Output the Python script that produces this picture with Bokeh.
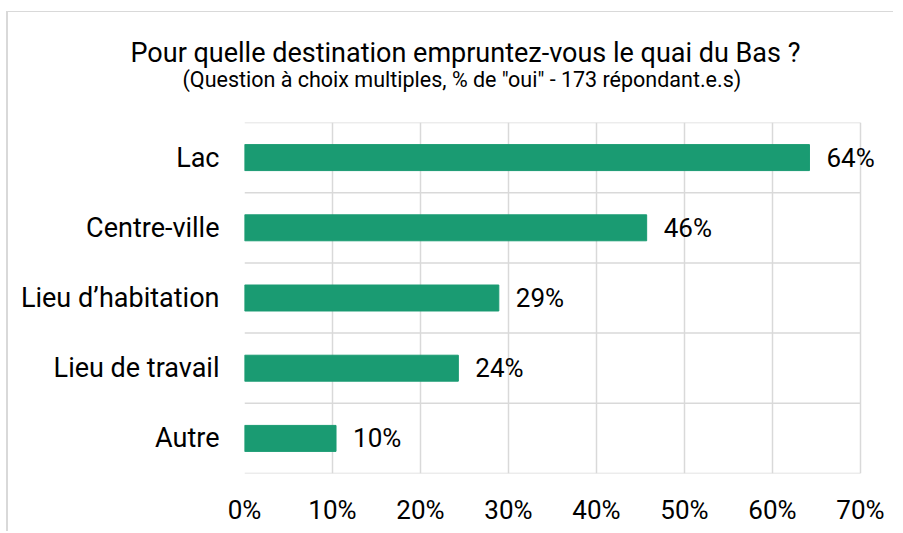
from bokeh.plotting import figure
from bokeh.models import ColumnDataSource, FixedTicker, LabelSet, Title, Range1d, PrintfTickFormatter
from bokeh.core.properties import value
from bokeh.embed import file_html
from bokeh.resources import INLINE

title_text = "Pour quelle destination empruntez-vous le quai du Bas ?"
subtitle_text = '(Question à choix multiples, % de "oui" - 173 répondant.e.s)'
categories = ["Lac", "Centre-ville", "Lieu d\u2019habitation", "Lieu de travail", "Autre"]
values = [64.2, 45.7, 28.9, 24.3, 10.4]
x_ticks = [0, 10, 20, 30, 40, 50, 60, 70]

FONT = "Roboto"
GRID = "#d9d9d9"
BAR = "#1a9b72"

W, H = 887, 520
BL, BR, BT, BB = 236, 0, 110, 59
frame_w = W - BL - BR
axis_px = frame_w - 35          # pixels used by the 0..70 axis span
x_end = x_ticks[-1] * frame_w / axis_px

n = len(categories)
ypos = [n - i - 0.5 for i in range(n)]
labels = [f"{round(v)}%" for v in values]
src = ColumnDataSource(dict(cat=categories, val=values, y=ypos, lab=labels))

p = figure(width=W, height=H, x_range=Range1d(0, x_end), y_range=Range1d(0, n),
           output_backend="svg", toolbar_location=None,
           min_border_left=BL, min_border_right=BR, min_border_top=BT, min_border_bottom=BB)
p.styles = {"margin-left": "6px", "margin-top": "11px",
            "border-left": "2px solid #d9d9d9", "border-top": "1px solid #d9d9d9"}
p.outline_line_color = None

# horizontal category boundary lines, spanning the 0..70 axis
bounds_y = list(range(n + 1))
p.segment(x0=[x_ticks[0]] * len(bounds_y), x1=[x_ticks[-1]] * len(bounds_y),
          y0=bounds_y, y1=bounds_y, line_color=GRID, line_width=1.5)

p.hbar(y="y", right="val", left=0, height=0.37, source=src, color=BAR, line_color=BAR)

p.add_layout(LabelSet(x="val", y="y", text="lab", source=src, x_offset=17,
                      text_baseline="middle", text_font=value(FONT),
                      text_font_size="26px", text_color="#000000"))

# axes
p.yaxis.ticker = FixedTicker(ticks=ypos)
p.yaxis.major_label_overrides = {y: c for y, c in zip(ypos, categories)}
p.xaxis.ticker = FixedTicker(ticks=x_ticks)
p.xaxis.formatter = PrintfTickFormatter(format="%d%%")
for ax in (p.xaxis, p.yaxis):
    ax.axis_line_color = None
    ax.major_tick_line_color = None
    ax.minor_tick_line_color = None
    ax.major_tick_out = 0
    ax.major_tick_in = 0
    ax.minor_tick_out = 0
    ax.major_label_text_font = FONT
    ax.major_label_text_color = "#000000"
p.yaxis.major_label_text_font_size = "27px"
p.xaxis.major_label_text_font_size = "26px"
p.yaxis.major_label_standoff = 25
p.xaxis.major_label_standoff = 21

# grid
p.ygrid.grid_line_color = None
p.xgrid.ticker = FixedTicker(ticks=x_ticks)
p.xgrid.grid_line_color = GRID
p.xgrid.grid_line_width = 1.5

# titles (first added is nearest the plot)
p.add_layout(Title(text=subtitle_text, text_font=FONT, text_font_size="21.5px", text_color="#000000",
                   text_font_style="normal", align="left", offset=-62, standoff=62), "above")
p.add_layout(Title(text=title_text, text_font=FONT, text_font_size="27px", text_color="#000000",
                   text_font_style="normal", align="left", offset=-114, standoff=-70), "above")

open("out.html", "w").write(file_html(p, INLINE))
